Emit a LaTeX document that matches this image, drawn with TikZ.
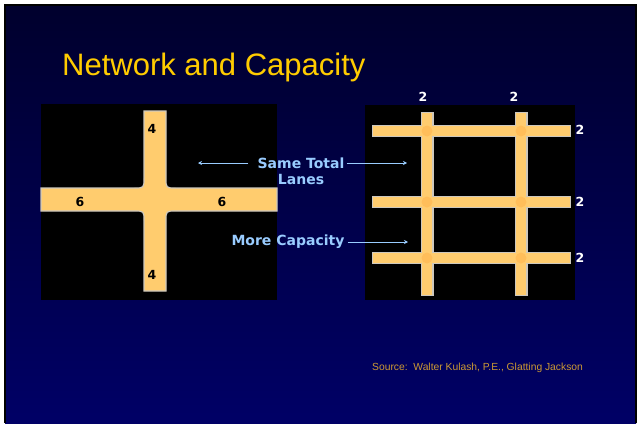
\documentclass[tikz,border=0pt]{standalone}
\usepackage{fontspec}
\setmainfont{Liberation Sans}
\newfontfamily\lblfont{DejaVu Sans}
\usetikzlibrary{arrows.meta,positioning}

\definecolor{slidetop}{RGB}{0,0,45}
\definecolor{slidebot}{RGB}{0,0,102}
\definecolor{titlec}{RGB}{255,204,0}
\definecolor{roadc}{RGB}{255,204,110}
\definecolor{roadedge}{RGB}{205,200,190}
\definecolor{knotc}{RGB}{255,190,90}
\definecolor{lblc}{RGB}{153,204,255}
\definecolor{srcc}{RGB}{204,153,51}

\begin{document}
\begin{tikzpicture}[x=1pt,y=-1pt]
        \tikzstyle{road} = [fill=roadc,draw=roadedge,line width=1.2pt]
        \tikzstyle{lane} = [font=\lblfont\bfseries\fontsize{12.5}{13}\selectfont,inner sep=0pt]
        \tikzstyle{note} = [font=\lblfont\bfseries\fontsize{14}{16}\selectfont,text=lblc,inner sep=1pt]
        \tikzstyle{ptr} = [draw=lblc,line width=0.8pt,-{Stealth[length=4pt,width=4pt]}]
        \useasboundingbox (0,0) rectangle (642,423);

        % slide
        \shade[top color=slidetop,bottom color=slidebot] (5,5) rectangle (636,423);
        \draw[black,line width=1.5pt] (5,423) -- (5,5) -- (636,5) -- (636,423);
        \node[anchor=west,text=titlec,font=\fontsize{31}{34}\selectfont,inner sep=0pt] (title) at (62,67) {Network and Capacity};

        % single intersection
        \fill[black] (41,104) rectangle (277,300);
        \filldraw[road] (41,188) -- (134,188) .. controls (144,188) .. (144,178) -- (144,111)
          -- (166,111) -- (166,178) .. controls (166,188) .. (176,188) -- (277,188)
          -- (277,211) -- (176,211) .. controls (166,211) .. (166,221) -- (166,291)
          -- (144,291) -- (144,221) .. controls (144,211) .. (134,211) -- (41,211) -- cycle;
        \node[lane] (n4a) at (152,129) {4};
        \node[lane] (n4b) at (152,275) {4};
        \node[lane] (n6a) at (80,202) {6};
        \node[lane] (n6b) at (222,202) {6};

        % grid of streets
        \fill[black] (365,105) rectangle (575,300);
        \foreach \y in {131,202,258}
          \draw[roadedge,line width=12pt] (372,\y) -- (571,\y);
        \foreach \x in {427,521}
          \draw[roadedge,line width=13pt] (\x,112) -- (\x,296);
        \foreach \y in {131,202,258}
          \draw[roadc,line width=9.5pt] (373,\y) -- (570,\y);
        \foreach \x in {427,521}
          \draw[roadc,line width=10.5pt] (\x,113) -- (\x,295);
        \foreach \x in {427,521}
          \foreach \y in {131,202,258}
            \fill[knotc] (\x,\y) circle (5.5);
        \node[lane,text=white] (t1) at (423,97) {2};
        \node[lane,text=white] (t2) at (514,97) {2};
        \node[lane,text=white] (r1) at (580,130) {2};
        \node[lane,text=white] (r2) at (580,202) {2};
        \node[lane,text=white] (r3) at (580,258) {2};

        % notes between the two
        \node[note] (same) at (301,163) {Same Total};
        \node[note,below=3pt of same] (lanes) {Lanes};
        \node[note] (more) at (288,242) {More Capacity};
        \coordinate (sl) at (198,163);
        \coordinate (sr) at (407,163);
        \coordinate (mr) at (408,242);
        \draw[ptr,shorten <=8pt] (same.west) -- (sl);
        \draw[ptr,shorten <=1pt] (same.east) -- (sr);
        \draw[ptr,shorten <=2pt] (more.east) -- (more.east -| mr);

        % source
        \node[anchor=west,text=srcc,font=\fontsize{10.3}{12}\selectfont,inner sep=0pt] (src) at (372,368) {Source:\ \ Walter Kulash, P.E., Glatting Jackson};
\end{tikzpicture}
\end{document}
